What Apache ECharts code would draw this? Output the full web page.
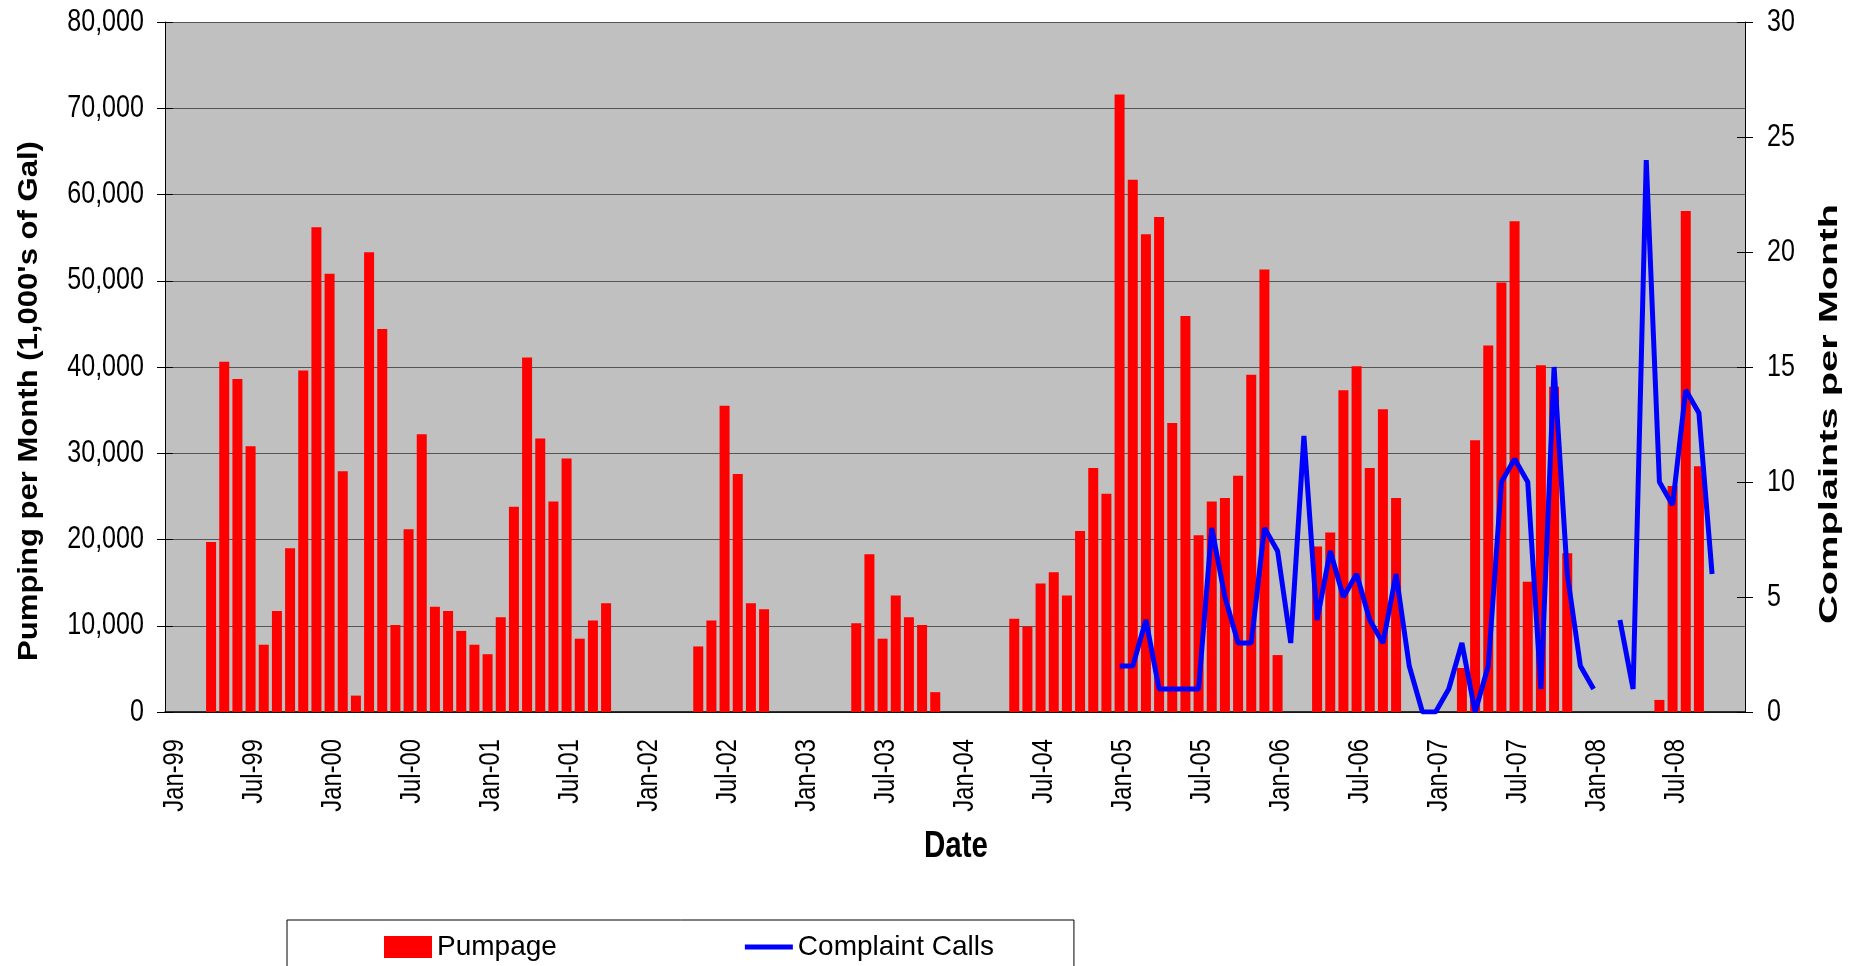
<!DOCTYPE html>
<html>
<head>
<meta charset="utf-8">
<script src="https://cdn.jsdelivr.net/npm/echarts@6/dist/echarts.min.js"></script>
<style>
html,body{margin:0;padding:0;background:#fff;}
#main{width:1855px;height:966px;}
</style>
</head>
<body>
<div id="main"></div>
<script>
var months = ['Jan','Feb','Mar','Apr','May','Jun','Jul','Aug','Sep','Oct','Nov','Dec'];
var years = ['99','00','01','02','03','04','05','06','07','08'];

// pumpage, 1,000's of gal per month (null = no pumping)
var pump1999 = [null, null, null, 19700, 40600, 38600, 30800, 7800, 11700, 19000, 39600, 56200];
var pump2000 = [50800, 27900, 1900, 53300, 44400, 10100, 21200, 32200, 12200, 11700, 9400, 7800];
var pump2001 = [6700, 11000, 23800, 41100, 31700, 24400, 29400, 8500, 10600, 12600, null, null];
var pump2002 = [null, null, null, null, 7600, 10600, 35500, 27600, 12600, 11900, null, null];
var pump2003 = [null, null, null, null, 10300, 18300, 8500, 13500, 11000, 10100, 2300, null];
var pump2004 = [null, null, null, null, 10800, 9900, 14900, 16200, 13500, 21000, 28300, 25300];
var pump2005 = [71600, 61700, 55400, 57400, 33500, 45900, 20500, 24400, 24800, 27400, 39100, 51300];
var pump2006 = [6600, null, null, 19200, 20800, 37300, 40100, 28300, 35100, 24800, null, null];
var pump2007 = [null, null, 5100, 31500, 42500, 49800, 56900, 15100, 40200, 37700, 18400, null];
var pump2008 = [null, null, null, null, null, 1400, 26200, 58100, 28500, null, null, null];

// complaint calls per month (only logged from Jan-05)
var calls2005 = [2, 2, 4, 1, 1, 1, 1, 8, 5, 3, 3, 8];
var calls2006 = [7, 3, 12, 4, 7, 5, 6, 4, 3, 6, 2, 0];
var calls2007 = [0, 1, 3, 0, 2, 10, 11, 10, 1, 15, 6, 2];
var calls2008 = [1, null, 4, 1, 24, 10, 9, 14, 13, 6, null, null];
var noCalls = [null, null, null, null, null, null, null, null, null, null, null, null];

// axis ticks
var leftTicks = [0, 10000, 20000, 30000, 40000, 50000, 60000, 70000, 80000];
var rightTicks = [0, 5, 10, 15, 20, 25, 30];

var categories = [];
for (var y = 0; y < years.length; y++) {
    for (var m = 0; m < months.length; m++) {
        categories.push(months[m] + '-' + years[y]);
    }
}
var pumpage = [].concat(pump1999, pump2000, pump2001, pump2002, pump2003,
    pump2004, pump2005, pump2006, pump2007, pump2008);
var calls = [].concat(noCalls, noCalls, noCalls, noCalls, noCalls, noCalls,
    calls2005, calls2006, calls2007, calls2008);

var sans = "'Liberation Sans', Arial, sans-serif";
var narrowX = 0.81;   // squeeze to look like Arial Narrow

var myChart = echarts.init(document.getElementById('main'));

var option = {
    animation: false,
    backgroundColor: '#ffffff',
    grid: {
        left: 165,
        right: 110,
        top: 22,
        bottom: 254,
        show: true,
        backgroundColor: '#c0c0c0',
        borderWidth: 0
    },
    legend: {
        left: 287,
        top: 920,
        padding: [13, 80, 13, 97],
        itemGap: 188,
        itemWidth: 48,
        itemHeight: 22,
        borderColor: '#000',
        borderWidth: 1,
        textStyle: { fontFamily: sans, fontSize: 28, color: '#000' },
        data: [
            { name: 'Pumpage', icon: 'rect' },
            { name: 'Complaint Calls', icon: 'path://M0,0h48v5h-48z' }
        ]
    },
    xAxis: [
        {
            type: 'category',
            data: categories,
            boundaryGap: true,
            axisLine: { lineStyle: { color: '#000', width: 1.5 } },
            axisTick: { interval: 0, length: 10, lineStyle: { color: '#000' } },
            axisLabel: { show: false }
        },
        {   // inner half of the cross ticks
            type: 'category',
            data: categories,
            position: 'bottom',
            boundaryGap: true,
            axisLine: { show: false },
            axisTick: { inside: true, interval: 0, length: 10, lineStyle: { color: '#000' } },
            axisLabel: { show: false }
        }
    ],
    yAxis: [
        {
            type: 'value',
            min: 0,
            max: 80000,
            interval: 10000,
            position: 'left',
            axisLine: { show: true, lineStyle: { color: '#000' } },
            axisTick: { show: true, length: 8, lineStyle: { color: '#000' } },
            splitLine: { show: true, lineStyle: { color: '#555', width: 1 } },
            axisLabel: { show: false }
        },
        {
            type: 'value',
            min: 0,
            max: 30,
            interval: 5,
            position: 'right',
            axisLine: { show: true, lineStyle: { color: '#000' } },
            axisTick: { show: true, length: 8, lineStyle: { color: '#000' } },
            splitLine: { show: false },
            axisLabel: { show: false }
        },
        {
            type: 'value',
            min: 0,
            max: 30,
            interval: 5,
            position: 'right',
            axisLine: { show: false },
            axisTick: { show: true, inside: true, length: 8, lineStyle: { color: '#000' } },
            splitLine: { show: false },
            axisLabel: { show: false }
        },
        {
            type: 'value',
            min: 0,
            max: 80000,
            interval: 10000,
            position: 'left',
            axisLine: { show: false },
            axisTick: { show: true, inside: true, length: 8, lineStyle: { color: '#000' } },
            splitLine: { show: false },
            axisLabel: { show: false }
        }
    ],
    series: [
        {
            name: 'Pumpage',
            type: 'bar',
            xAxisIndex: 0,
            yAxisIndex: 0,
            barWidth: 10,
            itemStyle: { color: '#ff0000' },
            data: pumpage
        },
        {
            name: 'Complaint Calls',
            type: 'line',
            xAxisIndex: 0,
            yAxisIndex: 1,
            symbol: 'none',
            connectNulls: false,
            lineStyle: { color: '#0000ff', width: 5 },
            itemStyle: { color: '#0000ff' },
            data: calls
        }
    ]
};

myChart.setOption(option);

// narrow tick labels and titles, placed with the chart's own axes
function narrowText(x, y, text, font, align, rotation, sx) {
    return {
        type: 'text',
        x: x,
        y: y,
        rotation: rotation || 0,
        scaleX: sx,
        silent: true,
        style: {
            text: text,
            font: font,
            fill: '#000',
            align: align,
            verticalAlign: 'middle'
        }
    };
}

var labels = [];
var axisY = myChart.convertToPixel({ yAxisIndex: 0 }, 0);
var x0 = myChart.convertToPixel({ xAxisIndex: 0 }, categories[0]);
var x1 = myChart.convertToPixel({ xAxisIndex: 0 }, categories[1]);
var half = (x1 - x0) / 2;
var leftX = x0 - half;
var rightX = myChart.convertToPixel({ xAxisIndex: 0 }, categories[categories.length - 1]) + half;

for (var i = 0; i < categories.length; i += 6) {
    var px = myChart.convertToPixel({ xAxisIndex: 0 }, categories[i]);
    labels.push(narrowText(px + 3, axisY + 27, categories[i], '29px ' + sans, 'right', Math.PI / 2, 0.82));
}
leftTicks.forEach(function (v) {
    var py = myChart.convertToPixel({ yAxisIndex: 0 }, v);
    labels.push(narrowText(leftX - 21, py, v.toLocaleString('en-US'), '31px ' + sans, 'right', 0, narrowX));
});
rightTicks.forEach(function (v) {
    var py = myChart.convertToPixel({ yAxisIndex: 1 }, v);
    labels.push(narrowText(rightX + 22, py, String(v), '31px ' + sans, 'left', 0, narrowX));
});

labels.push(narrowText(30, 401, "Pumping per Month (1,000's of Gal)", 'bold 27px ' + sans, 'center', Math.PI / 2, 1.15));
labels.push(narrowText(1830, 414, 'Complaints per Month', 'bold 26px ' + sans, 'center', Math.PI / 2, 1.53));
labels.push(narrowText(956, 847, 'Date', 'bold 36px ' + sans, 'center', 0, 0.82));

myChart.setOption({ graphic: labels });
</script>
</body>
</html>
